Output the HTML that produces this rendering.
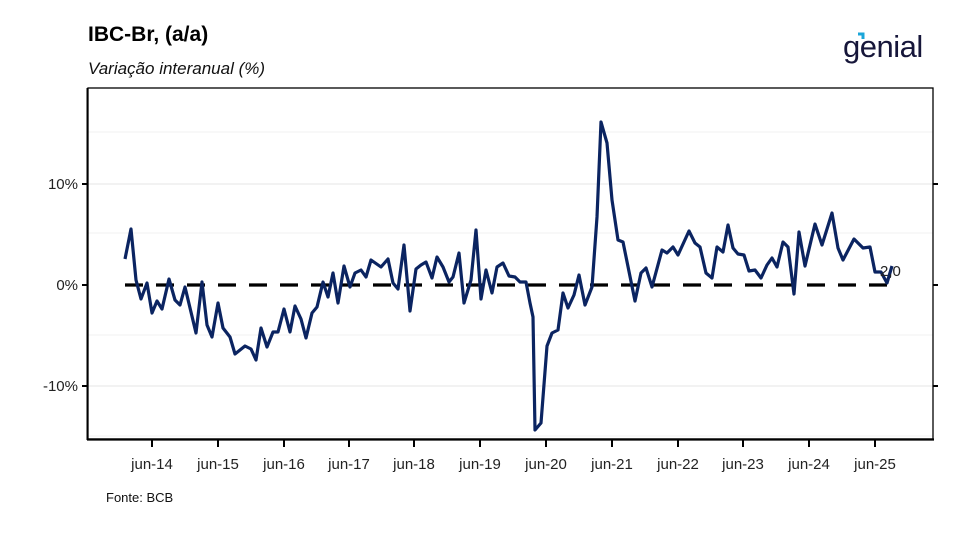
<!DOCTYPE html>
<html><head><meta charset="utf-8"><style>
body{margin:0;background:#fff;width:956px;height:531px;overflow:hidden;font-family:"Liberation Sans",sans-serif;}
</style></head><body>
<svg width="956" height="531" viewBox="0 0 956 531" xmlns="http://www.w3.org/2000/svg" font-family="Liberation Sans, sans-serif">
<text x="88" y="41" font-size="21" font-weight="bold" fill="#000">IBC-Br, (a/a)</text>
<text x="88" y="74" font-size="17" font-style="italic" fill="#111">Variação interanual (%)</text>
<text x="843" y="57" font-size="31" fill="#16163a" letter-spacing="-0.5">genial</text>
<path d="M858,34 l5,0 l0,5" stroke="#1ba6d9" stroke-width="3" fill="none"/>
<g stroke="#f0f0f0" stroke-width="1">
<line x1="88" y1="132" x2="933" y2="132"/><line x1="88" y1="233" x2="933" y2="233"/>
<line x1="88" y1="335" x2="933" y2="335"/><line x1="88" y1="436" x2="933" y2="436"/>
</g>
<g stroke="#e6e6e6" stroke-width="1">
<line x1="88" y1="184" x2="933" y2="184"/><line x1="88" y1="386" x2="933" y2="386"/>
</g>
<rect x="88" y="88" width="845" height="351" fill="none" stroke="#000" stroke-width="1.3"/>
<line x1="87" y1="439.5" x2="934" y2="439.5" stroke="#000" stroke-width="2.2"/>
<line x1="87.5" y1="88" x2="87.5" y2="440" stroke="#000" stroke-width="2"/>
<g stroke="#000" stroke-width="2">
<line x1="82" y1="184" x2="88" y2="184"/><line x1="82" y1="285" x2="88" y2="285"/><line x1="82" y1="386" x2="88" y2="386"/>
<line x1="933" y1="184" x2="938" y2="184"/><line x1="933" y1="285" x2="938" y2="285"/><line x1="933" y1="386" x2="938" y2="386"/>
<line x1="152" y1="440" x2="152" y2="447"/><line x1="218" y1="440" x2="218" y2="447"/><line x1="284" y1="440" x2="284" y2="447"/>
<line x1="349" y1="440" x2="349" y2="447"/><line x1="414" y1="440" x2="414" y2="447"/><line x1="480" y1="440" x2="480" y2="447"/>
<line x1="546" y1="440" x2="546" y2="447"/><line x1="612" y1="440" x2="612" y2="447"/><line x1="678" y1="440" x2="678" y2="447"/>
<line x1="743" y1="440" x2="743" y2="447"/><line x1="809" y1="440" x2="809" y2="447"/><line x1="875" y1="440" x2="875" y2="447"/>
</g>
<g font-size="15" fill="#222" text-anchor="end">
<text x="78" y="189">10%</text><text x="78" y="290">0%</text><text x="78" y="391">-10%</text>
</g>
<g font-size="15" fill="#222" text-anchor="middle">
<text x="152" y="469">jun-14</text><text x="218" y="469">jun-15</text><text x="284" y="469">jun-16</text>
<text x="349" y="469">jun-17</text><text x="414" y="469">jun-18</text><text x="480" y="469">jun-19</text>
<text x="546" y="469">jun-20</text><text x="612" y="469">jun-21</text><text x="678" y="469">jun-22</text>
<text x="743" y="469">jun-23</text><text x="809" y="469">jun-24</text><text x="875" y="469">jun-25</text>
</g>
<text x="106" y="502" font-size="13" fill="#111">Fonte: BCB</text>
<line x1="125" y1="285" x2="890" y2="285" stroke="#000" stroke-width="3.2" stroke-dasharray="18,13"/>
<polyline fill="none" stroke="#0b2461" stroke-width="3.2" stroke-linejoin="round" points="125,259 131,229 136,280 141,299 147,283 152,313 157,301 162,309 169,279 175,300 180,305 185,287 196,333 202,282 207,325 212,337 218,303 223,328 230,337 235,354 245,346 251,349 256,360 261,328 267,347 273,332 278,332 284,309 290,332 295,306 301,319 306,338 312,313 317,307 323,282 328,297 333,273 338,303 344,266 350,287 355,273 361,270 366,277 371,260 381,267 388,259 393,283 398,289 404,245 410,311 416,269 421,265 426,262 432,278 437,257 443,267 449,282 453,277 459,253 464,303 471,280 476,230 481,299 486,270 492,293 497,267 503,263 509,276 515,277 520,282 526,282 530,303 533,317 535,430 541,423 547,346 552,333 558,330 563,293 568,308 574,295 579,275 585,305 592,287 597,217 601,122 607,143 612,200 618,240 623,242 635,301 641,273 646,268 652,287 662,250 667,253 673,247 678,255 689,231 695,243 700,247 706,273 712,278 717,247 723,252 728,225 733,248 738,254 744,255 749,271 755,270 761,278 767,265 772,258 777,267 783,242 788,247 794,294 799,232 805,266 815,224 822,245 832,213 838,248 843,260 854,239 863,248 870,247 875,272 881,272 887,283 892,266"/>
<text x="880" y="276" font-size="15" fill="#222">2,0</text>
</svg>
</body></html>
